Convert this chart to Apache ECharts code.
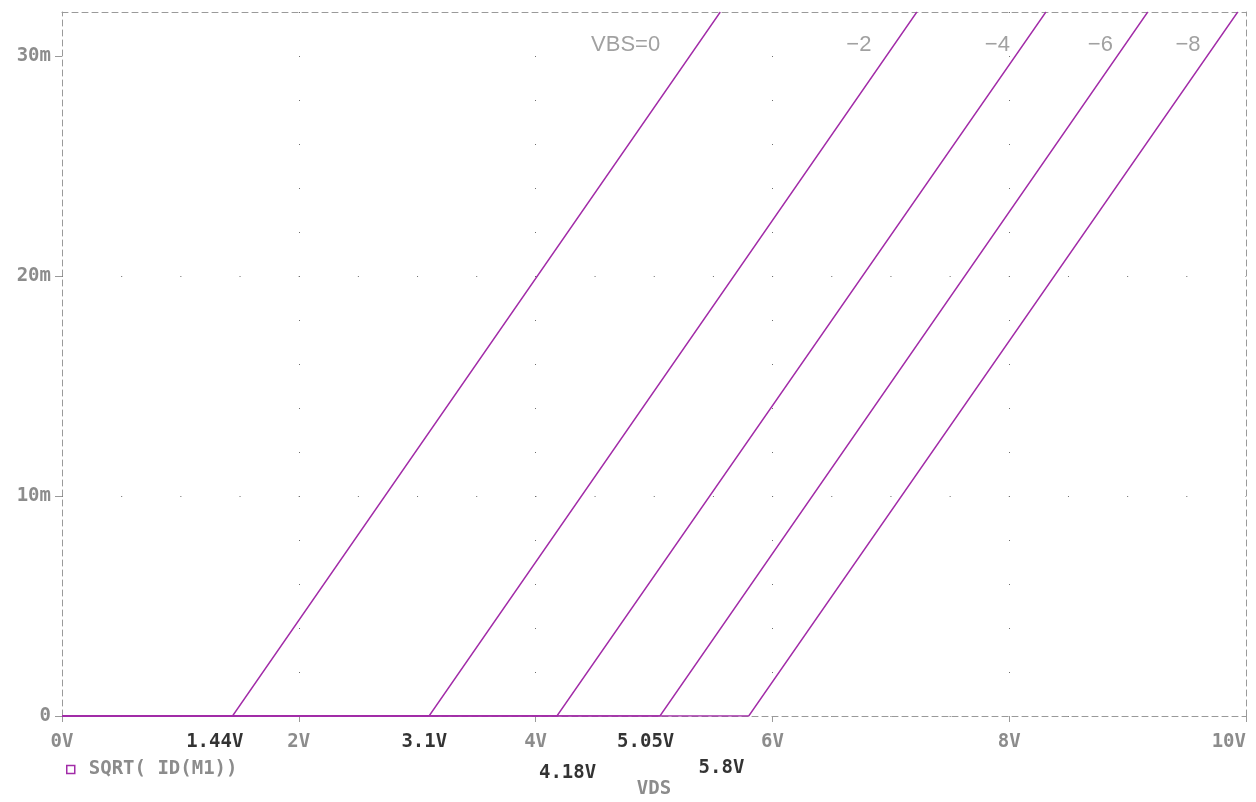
<!DOCTYPE html>
<html>
<head>
<meta charset="utf-8">
<script src="https://cdn.jsdelivr.net/npm/echarts@6/dist/echarts.min.js"></script>
<style>
html,body{margin:0;padding:0;background:#fff;}
#chart{width:1256px;height:802px;}
</style>
</head>
<body>
<div id="chart"></div>
<script>
// ---- data (VDS in V, SQRT(ID) in m units) ----
const seriesName = 'SQRT( ID(M1))';
const vThreshold = [1.44, 3.1, 4.18, 5.05, 5.8];      // where each curve leaves 0
const vAtTop = [5.56, 7.22, 8.31, 9.17, 9.93];        // VDS where each curve reaches 32m
const yTop = 32;
const vbsNames = ['VBS=0', '\u22122', '\u22124', '\u22126', '\u22128'];
const vbsLabelX = [4.76, 6.73, 7.90, 8.77, 9.51];
const vbsLabelY = 30.5;
const vtLabels = ['1.44V', '3.1V', '4.18V', '5.05V', '5.8V'];
const vtLabelX = [1.29, 3.06, 4.27, 4.93, 5.57];
const vtLabelY = [-1.18, -1.18, -2.6, -1.18, -2.36];
const yTickValues = [0, 10, 20, 30];

const purple = '#a22ca8';
const gray = '#8c8c8c';
const lineGray = '#9a9a9a';
const dotGray = '#6e6e6e';
const monoFont = '"DejaVu Sans Mono", monospace';

const chart = echarts.init(document.getElementById('chart'), null, {renderer: 'canvas'});

const lineSeries = vThreshold.map((vt, i) => ({
  name: seriesName,
  type: 'line',
  xAxisIndex: 0, yAxisIndex: 0,
  data: [[0, 0], [vt, 0], [vAtTop[i], yTop]],
  symbol: 'none',
  silent: true,
  clip: true,
  lineStyle: {color: purple, width: 1.4},
  itemStyle: {color: purple},
  emphasis: {disabled: true},
  z: 5
}));

const option = {
  animation: false,
  grid: {left: 62, top: 12, right: 10, bottom: 86, containLabel: false, outerBoundsMode: 'none'},
  legend: {
    left: 61, top: 755,
    data: [{name: seriesName, icon: 'rect',
      itemStyle: {color: '#fff', borderColor: purple, borderWidth: 1.5}}],
    itemWidth: 8, itemHeight: 8, itemGap: 0,
    selectedMode: false,
    textStyle: {color: gray, fontFamily: monoFont, fontWeight: 'bold', fontSize: 19, padding: [0, 0, 0, 9]}
  },
  xAxis: [{
    type: 'value', min: 0, max: 10, interval: 2, position: 'bottom',
    name: 'VDS', nameLocation: 'middle', nameGap: 64,
    nameTextStyle: {color: gray, fontFamily: monoFont, fontWeight: 'bold', fontSize: 19},
    axisLine: {show: true, lineStyle: {color: lineGray, width: 1, type: [6, 4]}},
    axisTick: {show: true, inside: false, length: 6, lineStyle: {color: lineGray}},
    axisLabel: {color: gray, fontFamily: monoFont, fontWeight: 'bold', fontSize: 19, margin: 17,
      alignMaxLabel: 'right', formatter: v => v + 'V'},
    splitLine: {show: true, showMinLine: false, showMaxLine: false,
      lineStyle: {color: dotGray, width: 1, type: [1, 43]}}
  }, {
    type: 'value', min: 0, max: 10, position: 'top',
    axisLine: {show: true, onZero: false, lineStyle: {color: lineGray, width: 1, type: [6, 4]}},
    axisTick: {show: false}, axisLabel: {show: false}, splitLine: {show: false}
  }],
  yAxis: [{
    type: 'value', min: 0, max: yTop, interval: 10, position: 'left',
    axisLine: {show: true, lineStyle: {color: lineGray, width: 1, type: [6, 4]}},
    axisTick: {show: true, length: 7, customValues: yTickValues, lineStyle: {color: lineGray}},
    axisLabel: {color: gray, fontFamily: monoFont, fontWeight: 'bold', fontSize: 19, margin: 11,
      customValues: yTickValues, formatter: v => v === 0 ? '0' : v + 'm'},
    splitLine: {show: true, showMinLine: true, showMaxLine: false,
      lineStyle: {color: dotGray, width: 1, type: [1, 58.175]}}
  }, {
    type: 'value', min: 0, max: yTop, position: 'right',
    axisLine: {show: true, onZero: false, lineStyle: {color: lineGray, width: 1, type: [6, 4]}},
    axisTick: {show: false}, axisLabel: {show: false}, splitLine: {show: false}
  }],
  series: lineSeries.concat([
    {
      name: 'vbs', type: 'scatter', xAxisIndex: 0, yAxisIndex: 0,
      symbolSize: 0, silent: true, clip: false,
      data: vbsNames.map((n, i) => ({name: n, value: [vbsLabelX[i], vbsLabelY]})),
      label: {show: true, position: 'inside', formatter: p => p.name,
        color: '#8a8a8a', fontFamily: '"Liberation Sans", Arial, sans-serif', fontSize: 22},
      z: 6
    },
    {
      name: 'vt', type: 'scatter', xAxisIndex: 0, yAxisIndex: 0,
      symbolSize: 0, silent: true, clip: false,
      data: vtLabels.map((n, i) => ({name: n, value: [vtLabelX[i], vtLabelY[i]]})),
      label: {show: true, position: 'inside', formatter: p => p.name,
        color: '#000', fontFamily: monoFont, fontWeight: 'bold', fontSize: 19},
      z: 6
    }
  ])
};
chart.setOption(option);
</script>
</body>
</html>
